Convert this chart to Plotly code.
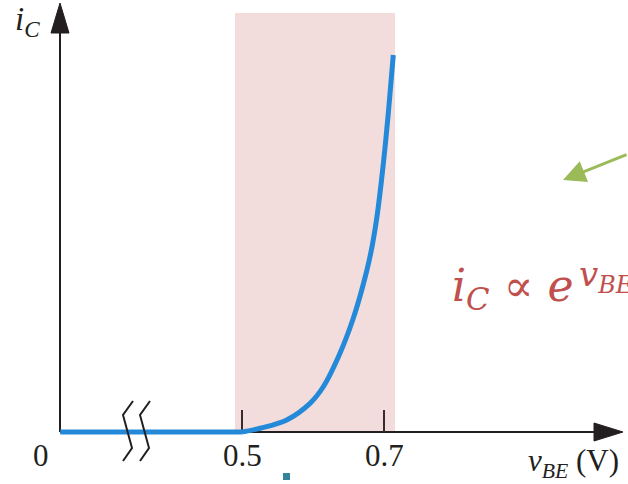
import plotly.graph_objects as go

# ---- data ----
v_BE = [0.244, 0.500, 0.5254, 0.5630, 0.5958, 0.6145, 0.6380, 0.6559, 0.6700,
        0.6813, 0.6897, 0.6965, 0.7013, 0.7061, 0.7131]
i_C = [0.0, 0.0, 0.10, 0.32, 0.76, 1.20, 2.09, 2.97, 3.86,
       4.74, 5.66, 6.68, 7.52, 8.46, 10.0]
tick_vals = [0.5, 0.7]
tick_text = ["0.5", "0.7"]
region = [0.490, 0.7155]          # shaded active region (V)

# ---- pixel <-> data helpers (for decorations only) ----
W, H = 628, 484
def X(px):
    return 0.5 + (px - 242) / 710.0
def Y(py):
    return (432 - py) / 37.7

x0 = X(60)       # axis origin
serif = "Liberation Serif"
ink = "#231f20"
blue = "#2389d8"

fig = go.Figure()
# cut-off (flat) part
fig.add_trace(go.Scatter(x=v_BE[:2], y=i_C[:2], mode="lines",
                         line=dict(color=blue, width=5),
                         hoverinfo="skip", showlegend=False))
# exponential part
fig.add_trace(go.Scatter(x=v_BE[1:], y=i_C[1:], mode="lines",
                         line=dict(color=blue, width=5, shape="spline", smoothing=1.0),
                         hoverinfo="skip", showlegend=False))

shapes = []
shapes.append(dict(type="rect", x0=region[0], x1=region[1], y0=0, y1=Y(13),
                   fillcolor="#f2dddc", line=dict(width=0), layer="below"))
shapes.append(dict(type="line", x0=x0, x1=x0, y0=0, y1=Y(30),
                   line=dict(color=ink, width=2), layer="below"))
shapes.append(dict(type="line", x0=x0, x1=X(596), y0=0, y1=0,
                   line=dict(color=ink, width=2), layer="below"))
shapes.append(dict(type="path",
                   path=f"M {X(60)},{Y(3)} L {X(51)},{Y(33)} L {X(69)},{Y(33)} Z",
                   fillcolor=ink, line=dict(color=ink, width=1), layer="below"))
shapes.append(dict(type="path",
                   path=f"M {X(623)},{Y(432)} L {X(594)},{Y(423)} L {X(594)},{Y(441)} Z",
                   fillcolor=ink, line=dict(color=ink, width=1), layer="below"))
for tv in tick_vals:
    shapes.append(dict(type="line", x0=tv, x1=tv, y0=0, y1=Y(410),
                       line=dict(color="#3a2a2a", width=2), layer="below"))
for dx in (0, 17):
    pts = [(133 + dx, 401), (123 + dx, 415), (132 + dx, 448), (123 + dx, 461)]
    p = "M " + " L ".join(f"{X(a)},{Y(b)}" for a, b in pts)
    shapes.append(dict(type="path", path=p, line=dict(color=ink, width=2), layer="above"))
shapes.append(dict(type="rect", x0=X(283), x1=X(290), y0=Y(480), y1=Y(473),
                   fillcolor="#31849b", line=dict(width=0), layer="above"))

ann = []
ann.append(dict(x=X(41), y=Y(455), text="0", showarrow=False,
                font=dict(family=serif, size=31, color=ink)))
for tv, tt in zip(tick_vals, tick_text):
    ann.append(dict(x=tv, y=Y(455), text=tt, showarrow=False,
                    font=dict(family=serif, size=31, color=ink)))
ann.append(dict(x=X(27), y=Y(21), text="<i>i</i><sub><i>C</i></sub>", showarrow=False,
                font=dict(family=serif, size=33, color=ink)))
ann.append(dict(x=X(573), y=Y(463), text="<i>v</i><sub><i>BE</i></sub> (V)", showarrow=False,
                font=dict(family=serif, size=31, color=ink)))
red = "#c0504d"
ann.append(dict(x=X(450), y=Y(288), xanchor="left", text="<i>i</i><sub><i>C</i></sub> ∝ <i>e</i>",
                showarrow=False, font=dict(family="DejaVu Serif", size=44, color=red)))
ann.append(dict(x=X(577), y=Y(276), xanchor="left", text="<i>v</i><sub><i>BE</i></sub>",
                showarrow=False, font=dict(family="DejaVu Serif", size=34, color=red)))
ann.append(dict(x=X(563), y=Y(180), ax=66, ay=-26, text="", showarrow=True,
                arrowhead=2, arrowsize=1.5, arrowwidth=3, arrowcolor="#9bbb59", standoff=0))

fig.update_layout(width=W, height=H, margin=dict(l=0, r=0, t=0, b=0),
                  paper_bgcolor="white", plot_bgcolor="white",
                  xaxis=dict(range=[X(0), X(W)], visible=False, fixedrange=True),
                  yaxis=dict(range=[Y(H), Y(0)], visible=False, fixedrange=True),
                  shapes=shapes, annotations=ann, showlegend=False)
fig.write_html("out.html", config=dict(displayModeBar=False),
               post_script="document.body.style.margin='0';document.body.style.overflow='hidden';")
